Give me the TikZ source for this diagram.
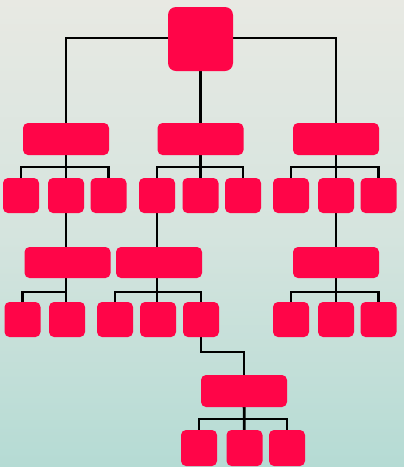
\documentclass[tikz,border=0pt]{standalone}
\usetikzlibrary{calc}
\definecolor{boxred}{HTML}{FF0548}
\definecolor{bgtop}{HTML}{E8E9E3}
\definecolor{bgmid}{HTML}{D5E4DE}
\definecolor{bgbot}{HTML}{B5DBD4}
\pgfdeclarelayer{bg}
\pgfdeclarelayer{edges}
\pgfsetlayers{bg,edges,main}
\tikzset{
  box/.style={fill=boxred, draw=none, rounded corners=5pt, inner sep=0pt},
  bigbox/.style={box, minimum width=65pt, minimum height=64pt, rounded corners=8pt},
  wide/.style={box, minimum width=86pt, minimum height=32pt},
  sq/.style={box, minimum width=36pt, minimum height=35pt},
  link/.style={line width=2.8pt, black}
}
\begin{document}
\begin{tikzpicture}[x=1pt,y=-1pt]
\begin{pgfonlayer}{bg}
\shade[top color=bgtop, bottom color=bgbot, middle color=bgmid] (0,0) rectangle (404,467);
\end{pgfonlayer}
\useasboundingbox (0,0) rectangle (404,467);
% top
\node[bigbox] (top) at (200.5,39) {};
% level 1
\node[wide] (A) at (66,139) {};
\node[wide] (B) at (200.5,139) {};
\node[wide] (C) at (336,139) {};
% level 1 children
\node[sq] (a1) at (21,195.5) {};
\node[sq] (a2) at (66,195.5) {};
\node[sq] (a3) at (108.5,195.5) {};
\node[sq] (b1) at (157,195.5) {};
\node[sq] (b2) at (200.5,195.5) {};
\node[sq] (b3) at (243,195.5) {};
\node[sq] (c1) at (291,195.5) {};
\node[sq] (c2) at (336,195.5) {};
\node[sq] (c3) at (378.5,195.5) {};
% level 2
\node[wide, minimum height=31pt] (D) at (67.5,262.5) {};
\node[wide, minimum height=31pt] (E) at (159,262.5) {};
\node[wide, minimum height=31pt] (F) at (336,262.5) {};
% level 2 children
\node[sq] (d1) at (22.5,319.5) {};
\node[sq] (d2) at (67,319.5) {};
\node[sq] (e1) at (115,319.5) {};
\node[sq] (e2) at (158,319.5) {};
\node[sq] (e3) at (201,319.5) {};
\node[sq] (f1) at (291,319.5) {};
\node[sq] (f2) at (336,319.5) {};
\node[sq] (f3) at (378.5,319.5) {};
% level 3
\node[wide] (G) at (244,391) {};
\node[sq, minimum height=36pt] (g1) at (199,448) {};
\node[sq, minimum height=36pt] (g2) at (244.5,448) {};
\node[sq, minimum height=36pt] (g3) at (287,448) {};
% bus coordinates
\coordinate (bus0) at (200.5,38);
\coordinate (busA) at (66,167);
\coordinate (busB) at (200.5,167);
\coordinate (busC) at (336,167);
\coordinate (busD) at (66,292);
\coordinate (busE) at (157,292);
\coordinate (busF) at (336,292);
\coordinate (kink) at (222,352);
\coordinate (busG) at (244,419);
\begin{pgfonlayer}{edges}
\draw[link] (A.center) |- (bus0) -| (C.center);
\draw[link] (top.center) -- (B.center);
\draw[link] (a1.center) |- (busA) -| (a3.center);
\draw[link] (A.center) -- (a2.center);
\draw[link] (b1.center) |- (busB) -| (b3.center);
\draw[link] (B.center) -- (b2.center);
\draw[link] (c1.center) |- (busC) -| (c3.center);
\draw[link] (C.center) -- (c2.center);
\draw[link] (a2.center) -- (a2.center |- D.center);
\draw[link] (b1.center) -- (b1.center |- E.center);
\draw[link] (c2.center) -- (F.center);
\draw[link] (d1.center) |- (busD) -- (busD |- D.center);
\draw[link] (busD) -- (busD |- d2.center);
\draw[link] (e1.center) |- (busE) -| (e3.center);
\draw[link] (busE |- E.center) -- (busE |- e2.center);
\draw[link] (f1.center) |- (busF) -| (f3.center);
\draw[link] (F.center) -- (f2.center);
\draw[link] (e3.center) |- (kink) -| (G.center);
\draw[link] (g1.center) |- (busG) -| (g3.center);
\draw[link] (G.center) -- (g2.center);
\end{pgfonlayer}
\end{tikzpicture}
\end{document}
